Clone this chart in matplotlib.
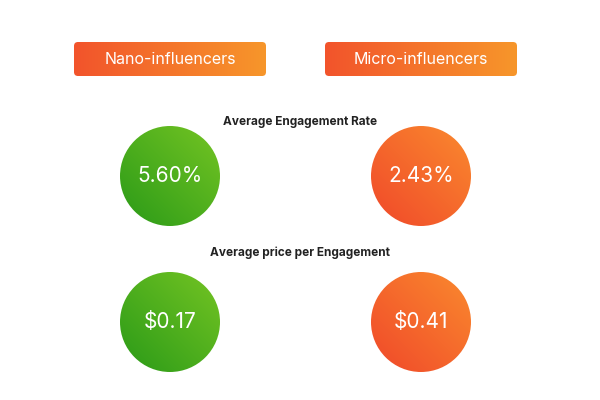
import numpy as np
import matplotlib
matplotlib.use("Agg")
import matplotlib.pyplot as plt
from matplotlib.patches import Circle, FancyBboxPatch
from matplotlib.colors import LinearSegmentedColormap

groups = ["Nano-influencers", "Micro-influencers"]
metrics = ["Average Engagement Rate", "Average price per Engagement"]
engagement_rate = [5.60, 2.43]
price_per_engagement = [0.17, 0.41]
labels = [
    [f"{v:.2f}%" for v in engagement_rate],
    [f"${v:.2f}" for v in price_per_engagement],
]

plt.rcParams["font.family"] = ["Inter", "DejaVu Sans"]

fig = plt.figure(figsize=(6, 4), dpi=100)
ax = fig.add_axes([0, 0, 1, 1])
ax.set_xlim(0, 600)
ax.set_ylim(400, 0)
ax.axis("off")

orange = LinearSegmentedColormap.from_list("o", ["#f2542c", "#f7962a"])
orange_c = LinearSegmentedColormap.from_list("oc", ["#f0482a", "#fa8a2e"])
green_c = LinearSegmentedColormap.from_list("gc", ["#2a9a18", "#74c423"])

# gradient: along x for boxes, diagonal for circles
gx = np.linspace(0, 1, 200)[None, :]
yy, xx = np.mgrid[0:1:200j, 0:1:200j]
diag = (xx + (1 - yy)) / 2

col_x = [170, 421]
for cx, name in zip(col_x, groups):
    x0, x1, y0, y1 = cx - 96, cx + 96, 42, 76
    box = FancyBboxPatch((x0, y0), x1 - x0, y1 - y0,
                         boxstyle="round,pad=0,rounding_size=4",
                         facecolor="none", edgecolor="none")
    ax.add_patch(box)
    im = ax.imshow(gx, cmap=orange, extent=[x0, x1, y1, y0], aspect="auto")
    im.set_clip_path(box)
    ax.text(cx, (y0 + y1) / 2 + 1, name, color="white", fontsize=11.5,
            ha="center", va="center")

row_y = [176, 322]
title_y = [122, 253]
r = 50
for i, (metric, cy, ty) in enumerate(zip(metrics, row_y, title_y)):
    ax.text(300, ty, metric, fontsize=8.5, fontweight="bold",
            ha="center", va="center", color="#222222")
    for j, cx in enumerate(col_x):
        cmap = green_c if j == 0 else orange_c
        c = Circle((cx, cy), r, facecolor="none", edgecolor="none")
        ax.add_patch(c)
        im = ax.imshow(diag, cmap=cmap, origin="upper",
                       extent=[cx - r, cx + r, cy + r, cy - r], aspect="auto")
        im.set_clip_path(c)
        ax.text(cx, cy, labels[i][j], color="white", fontsize=15,
                ha="center", va="center")

ax.set_xlim(0, 600)
ax.set_ylim(400, 0)
fig.savefig("out.png", dpi=100, facecolor="white")
